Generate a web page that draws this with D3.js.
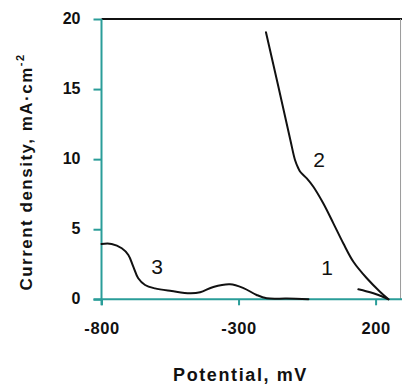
<!DOCTYPE html>
<html>
<head>
<meta charset="utf-8">
<script src="https://cdn.jsdelivr.net/npm/d3@7"></script>
<style>
  html, body { margin: 0; padding: 0; background: #fff; }
  svg { display: block; font-family: "Liberation Sans", Arial, Helvetica, sans-serif; }
</style>
</head>
<body>
<svg id="chart" width="402" height="386"></svg>
<script>
// ---- data (potential mV, current density mA/cm2) ----
const curve1 = [[137, 0.71], [165, 0.58], [192, 0.43], [222, 0.22], [247, 0]];
const curve2 = [[-200, 19.05], [-155, 15.2], [-111, 11.37], [-94, 9.94], [-82, 9.35], [-75, 9.1],
  [-51, 8.63], [-27, 8.03], [9, 6.85], [46, 5.42], [82, 4.0], [119, 2.68], [168, 1.5], [216, 0.54], [247, 0]];
const curve3 = [[-800, 3.95], [-763, 3.95], [-726, 3.64], [-702, 3.16], [-684, 2.33], [-666, 1.5],
  [-641, 1.02], [-605, 0.78], [-544, 0.59], [-477, 0.43], [-440, 0.5], [-392, 0.88], [-331, 1.07],
  [-282, 0.8], [-234, 0.31], [-197, 0.07], [-124, 0.05], [-45, 0.0]];
const curveLabels = [["1", 23, 1.73], ["2", -6, 9.46], ["3", -597, 1.78]];
const xTicks = [-800, -300, 200];
const yTicks = [0, 5, 10, 15, 20];

const teal = "#2a9d99";
const svg = d3.select("#chart");

const x = d3.scaleLinear().domain([-800, 300]).range([101.5, 403]);
const y = d3.scaleLinear().domain([0, 20]).range([299.3, 19]);

// frame: top black line, right grey line
svg.append("line").attr("x1", x(-800)).attr("x2", 402).attr("y1", y(20)).attr("y2", y(20))
  .attr("stroke", "#111").attr("stroke-width", 1.8);
svg.append("line").attr("x1", x(291)).attr("x2", x(291)).attr("y1", y(20)).attr("y2", y(0))
  .attr("stroke", "#9a9a9a").attr("stroke-width", 1);

// axes
const xAxis = d3.axisBottom(x).tickValues(xTicks).tickSize(6).tickSizeOuter(0).tickPadding(17)
  .tickFormat(d => d < 0 ? "-" + Math.abs(d) : String(d));
const gx = svg.append("g").attr("transform", `translate(0,${y(0)})`).call(xAxis);
const yAxis = d3.axisLeft(y).tickValues(yTicks).tickSize(8).tickSizeOuter(0).tickPadding(13);
const gy = svg.append("g").attr("transform", `translate(${x(-800)},0)`).call(yAxis);

[gx, gy].forEach(g => {
  g.select(".domain").attr("stroke", teal).attr("stroke-width", 2);
  g.selectAll(".tick line").attr("stroke", teal).attr("stroke-width", 2);
  g.selectAll(".tick text").attr("fill", "#111").attr("font-weight", "bold")
    .attr("font-family", "'Liberation Sans', Arial, sans-serif");
});
gx.selectAll(".tick text").attr("font-size", 16.5).attr("letter-spacing", "0.6px");
gy.selectAll(".tick text").attr("font-size", 16).attr("dy", "0.28em");
// extend the x axis to the right edge
gx.select(".domain").attr("d", `M${x(-800) - 8},0H402`);
gy.select(".domain").attr("d", `M0,${y(20)}V${y(0) + 6}`);

// curves
const line = d3.line().x(d => x(d[0])).y(d => y(d[1])).curve(d3.curveCatmullRom.alpha(0.5));
[curve1, curve2, curve3].forEach(c => {
  svg.append("path").datum(c).attr("d", line).attr("fill", "none")
    .attr("stroke", "#111").attr("stroke-width", 2).attr("stroke-linejoin", "round").attr("stroke-linecap", "round");
});

// curve labels
svg.selectAll(".clabel").data(curveLabels).enter().append("text")
  .attr("x", d => x(d[1])).attr("y", d => y(d[2]))
  .attr("text-anchor", "middle").attr("font-size", 21).attr("fill", "#111")
  .text(d => d[0]);

// axis titles
svg.append("text").attr("x", 240.5).attr("y", 380.7).attr("text-anchor", "middle")
  .attr("font-size", 18).attr("font-weight", "bold").attr("letter-spacing", "1.6px").attr("fill", "#111")
  .text("Potential, mV");

const yt = svg.append("text").attr("transform", "translate(31.5,172) rotate(-90)")
  .attr("text-anchor", "middle").attr("font-size", 17).attr("font-weight", "bold")
  .attr("letter-spacing", "1.5px").attr("fill", "#111");
yt.append("tspan").text("Current density, mA·cm");
yt.append("tspan").attr("dy", -8).attr("font-size", 11).text("-2");
</script>
</body>
</html>
